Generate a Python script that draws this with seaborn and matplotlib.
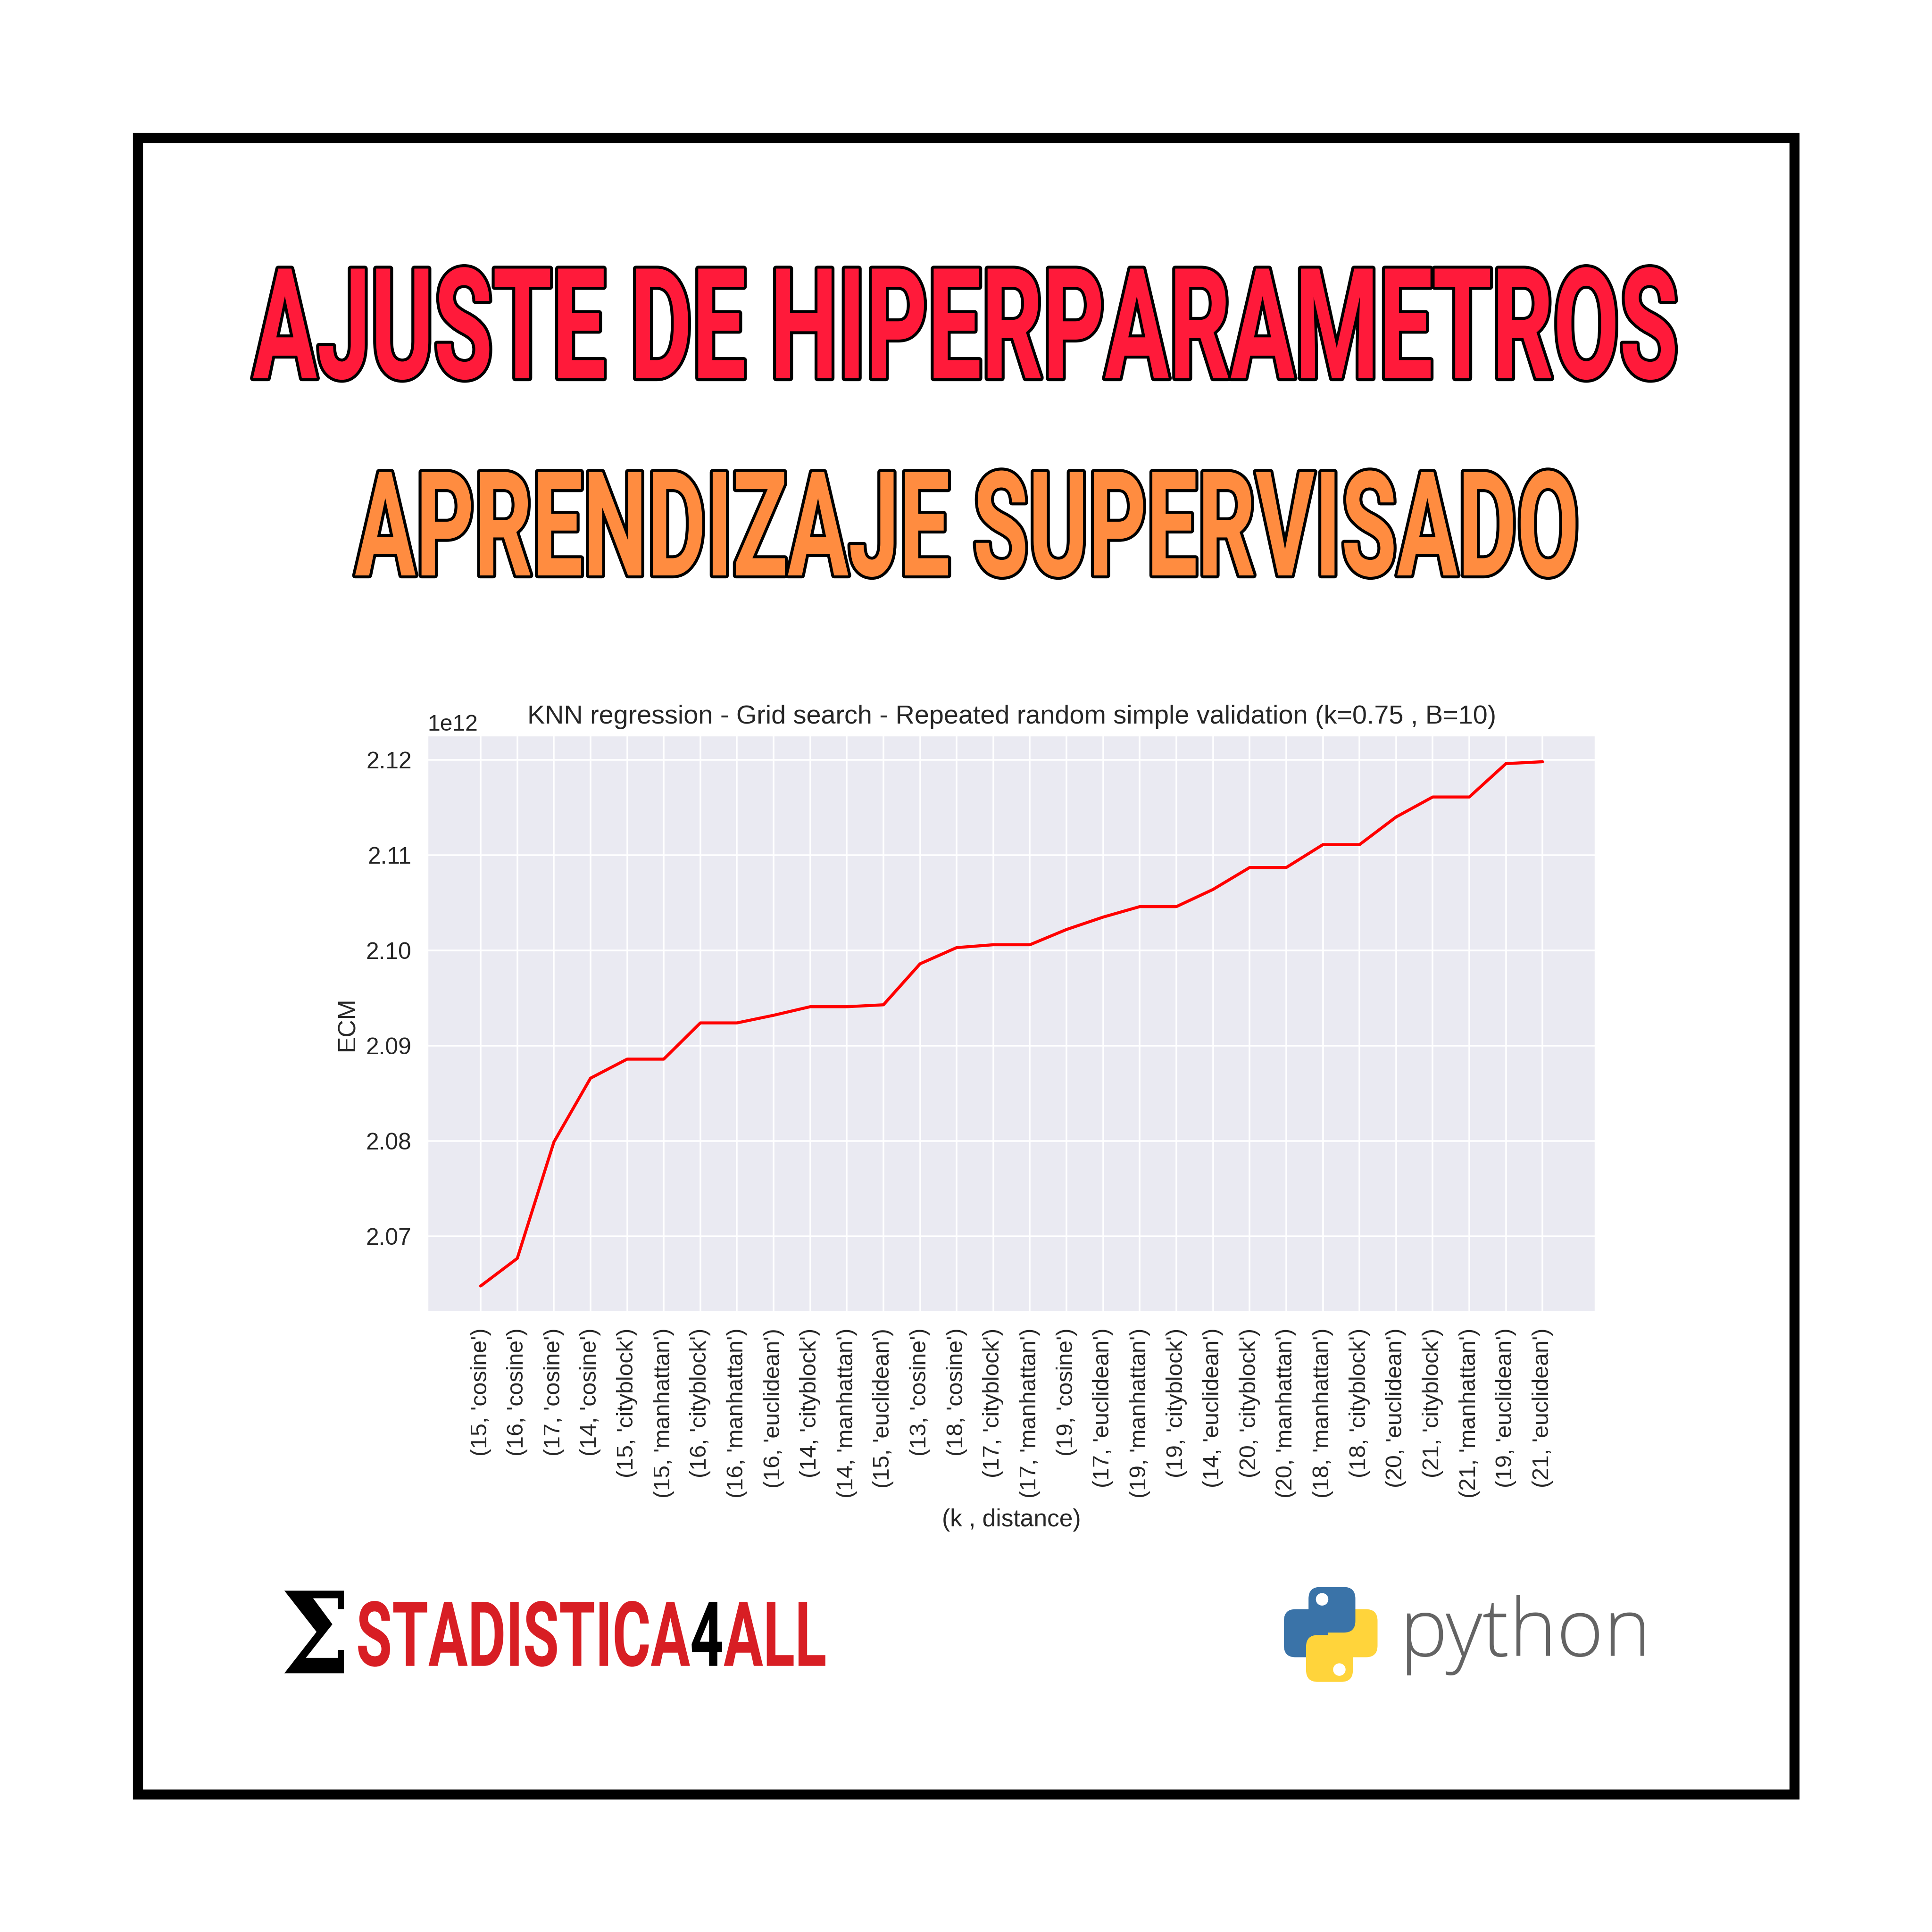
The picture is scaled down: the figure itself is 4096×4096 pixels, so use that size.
import matplotlib
matplotlib.use('Agg')
import matplotlib.pyplot as plt
import matplotlib.patheffects as pe
from matplotlib.patches import Rectangle, FancyBboxPatch, Circle
from matplotlib.transforms import Affine2D
import pandas as pd
import seaborn as sns

# data (ECM in units of 1e12)
k_values = [15, 16, 17, 14, 15, 15, 16, 16, 16, 14, 14, 15, 13, 18, 17,
            17, 19, 17, 19, 19, 14, 20, 20, 18, 18, 20, 21, 21, 19, 21]
distances = ['cosine', 'cosine', 'cosine', 'cosine', 'cityblock', 'manhattan',
             'cityblock', 'manhattan', 'euclidean', 'cityblock', 'manhattan',
             'euclidean', 'cosine', 'cosine', 'cityblock', 'manhattan', 'cosine',
             'euclidean', 'manhattan', 'cityblock', 'euclidean', 'cityblock',
             'manhattan', 'manhattan', 'cityblock', 'euclidean', 'cityblock',
             'manhattan', 'euclidean', 'euclidean']
ecm = [2.0648, 2.0677, 2.0799, 2.0866, 2.0886, 2.0886, 2.0924, 2.0924,
       2.0932, 2.0941, 2.0941, 2.0943, 2.0986, 2.1003, 2.1006, 2.1006,
       2.1022, 2.1035, 2.1046, 2.1046, 2.1064, 2.1087, 2.1087, 2.1111,
       2.1111, 2.1140, 2.1161, 2.1161, 2.1196, 2.1198]

labels = ["(%d, '%s')" % (k, d) for k, d in zip(k_values, distances)]
df = pd.DataFrame({'combo': labels, 'ecm': [v * 1e12 for v in ecm]})

sns.set_theme(style='darkgrid')
plt.rcParams['font.family'] = ['Liberation Sans', 'DejaVu Sans']

fig = plt.figure(figsize=(16, 16), dpi=256)
fig.patch.set_facecolor('white')
renderer = fig.canvas.get_renderer()
PX = 1568  # reference preview size used for the layout numbers below
PT = 16 * 72  # figure height in points
HEAD_FONT = ['Roboto', 'DejaVu Sans']


class Stretch(pe.AbstractPathEffect):
    """draw the text path stretched vertically around its baseline,
    optionally with an outline (gives the tall condensed look)"""

    def __init__(self, sy=1.0, stroke=0, stroke_color='black'):
        super().__init__()
        self.sy = sy
        self.stroke, self.stroke_color = stroke, stroke_color

    def draw_path(self, renderer, gc, tpath, affine, rgbFace=None):
        by = affine.transform((0, 0))[1]
        t = affine + Affine2D().translate(0, -by).scale(1, self.sy).translate(0, by)
        if self.stroke:
            gc0 = renderer.new_gc()
            gc0.copy_properties(gc)
            gc0.set_linewidth(self.stroke)
            gc0.set_foreground(self.stroke_color)
            gc0.set_joinstyle('round')
            renderer.draw_path(gc0, tpath, t, rgbFace)
            gc0.restore()
        renderer.draw_path(gc, tpath, t, rgbFace)


def natural_width(t):
    return t.get_window_extent(renderer).width / fig.bbox.width


def cap_stretch(size, cap_px, cap_ratio=0.711):
    # vertical factor so that the cap height becomes cap_px (preview pixels)
    return cap_px / PX * PT / (cap_ratio * size)


def headline(x, y, s, width, cap_px, color):
    t = fig.text(x, y, s, ha='center', va='baseline', fontsize=40, fontweight='bold',
                 family=HEAD_FONT, color=color)
    size = 40 * width / natural_width(t)
    t.set_fontsize(size)
    t.set_path_effects([Stretch(sy=cap_stretch(size, cap_px), stroke=3.5)])
    return t


# frame
fig.patches.append(Rectangle((0.0714, 0.0714), 0.8572, 0.8572, transform=fig.transFigure,
                             fill=False, edgecolor='black', linewidth=6))

# headline text
headline(0.4997, 1 - 307 / PX, 'AJUSTE DE HIPERPARAMETROS', 1157 / PX, 89, '#FF1A3A')
headline(0.5006, 1 - 467 / PX, 'APRENDIZAJE SUPERVISADO', 994 / PX, 84, '#FF8C40')

# chart
ax = fig.add_axes([0.2213, 0.3208, 0.6046, 0.2985])
sns.lineplot(data=df, x='combo', y='ecm', color='red', linewidth=1.8, ax=ax)
ax.set_title('KNN regression - Grid search - Repeated random simple validation (k=0.75 , B=10)',
             fontsize=15.7, color='#262626', pad=7)
ax.set_xlabel('(k , distance)', fontsize=14.5, color='#262626', labelpad=6)
ax.set_ylabel('ECM', fontsize=14.5, color='#262626')
ax.tick_params(axis='x', labelrotation=90, labelsize=13.6)
ax.tick_params(axis='y', labelsize=14)
ax.yaxis.get_offset_text().set_fontsize(13.5)

# bottom-left logo: sigma + STADISTICA4ALL
sig = fig.text(256 / PX, 1 - 1358 / PX, '\u03a3', fontsize=40, fontweight='bold',
               family='DejaVu Serif', color='black', ha='center', va='baseline')
size = 40 * (57 / PX) / natural_width(sig)
sig.set_fontsize(size)
sig.set_path_effects([Stretch(sy=cap_stretch(size, 67, 0.729))])

parts = [('STADISTICA', '#D81E24'), ('4', 'black'), ('ALL', '#D81E24')]
texts = [fig.text(0, 1 - 1352 / PX, s, fontsize=40, fontweight='bold', family=HEAD_FONT,
                  color=c, ha='left', va='baseline') for s, c in parts]
total = sum(natural_width(t) for t in texts)
size = 40 * ((671 - 289) / PX) / total
x0 = 289 / PX
for t in texts:
    t.set_fontsize(size)
    t.set_x(x0)
    t.set_path_effects([Stretch(sy=cap_stretch(size, 52))])
    x0 += natural_width(t)

# python logo (two snakes, simplified)
blue, yellow = '#3A73A8', '#FFD43B'


def block(x0, y0, x1, y1, c):
    fig.patches.append(FancyBboxPatch((x0 / PX, 1 - y1 / PX), (x1 - x0) / PX, (y1 - y0) / PX,
                                      boxstyle='round,pad=0,rounding_size=0.006',
                                      transform=fig.transFigure, facecolor=c, edgecolor='none'))


block(1042, 1306, 1082, 1345, blue)
block(1078, 1306, 1118, 1345, yellow)
block(1062, 1288, 1100, 1325, blue)
block(1060, 1327, 1098, 1365, yellow)
fig.patches.append(Circle((1073 / PX, 1 - 1298 / PX), 0.0028, transform=fig.transFigure,
                          color='white'))
fig.patches.append(Circle((1087 / PX, 1 - 1355 / PX), 0.0028, transform=fig.transFigure,
                          color='white'))
py = fig.text(1238 / PX, 1 - 1344 / PX, 'python', fontsize=57, fontweight='light',
              family=['Open Sans', 'DejaVu Sans'], color='#646464', ha='center', va='baseline')
py.set_fontsize(57 * (204 / PX) / natural_width(py))

fig.savefig('out.png', dpi=256)
